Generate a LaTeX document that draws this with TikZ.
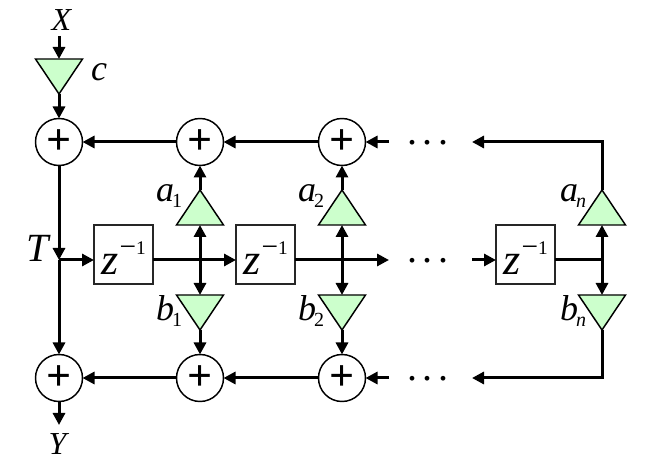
\documentclass[tikz,border=0pt]{standalone}
\usepackage{fontspec}
\setmainfont{Liberation Serif}
\usetikzlibrary{shapes.geometric,arrows.meta}
\definecolor{gainfill}{HTML}{CCFFCC}
\tikzstyle{adder} = [ circle, draw = black, line width = 1.1pt, fill = white, %
                      minimum size = 35.25pt, inner sep = 0pt, outer sep = 0pt, %
                      font = \bfseries\fontsize{33}{33}\selectfont ]
\tikzstyle{delay} = [ rectangle, draw = black!85, line width = 1.1pt, fill = white, %
                      minimum size = 44.25pt, inner sep = 0pt, outer sep = 0pt ]
\tikzstyle{gainup} = [ isosceles triangle, isosceles triangle stretches, %
                       shape border rotate = 90, draw = black, line width = 1.1pt, %
                       fill = gainfill, minimum width = 35.25pt, %
                       minimum height = 26.25pt, inner sep = 0pt, outer sep = 0pt, %
                       anchor = apex ]
\tikzstyle{gaindown} = [ gainup, shape border rotate = 270 ]
\tikzstyle{arrow} = [line width = 2.25pt,-{Triangle[length=9pt,width=9pt]}]
\tikzstyle{biarrow} = [line width = 2.25pt,{Triangle[length=9pt,width=9pt]}-{Triangle[length=9pt,width=9pt]}]
\tikzstyle{wire} = [line width = 2.25pt]
\newcommand{\zinv}{\rule{0pt}{30.75pt}\fontsize{33}{33}\selectfont\textit{z}\kern1pt\raisebox{14pt}{\fontsize{22}{22}\selectfont −}\raisebox{15pt}{\fontsize{14.5}{14.5}\selectfont 1}}
\newcommand{\gainlabel}[2]{\fontsize{27}{27}\selectfont\textit{#1}\kern-1.5pt\raisebox{-5pt}{\fontsize{15}{15}\selectfont #2}}

\begin{document}
\begin{tikzpicture}[x=0.75pt,y=-0.75pt]
      \useasboundingbox (0,0) rectangle (649,473);
      % Adders
      \node (addt0) [adder] at (59,142)  {+};
      \node (addt1) [adder] at (200,142) {+};
      \node (addt2) [adder] at (342,142) {+};
      \node (addb0) [adder] at (59,378)  {+};
      \node (addb1) [adder] at (200,378) {+};
      \node (addb2) [adder] at (342,378) {+};
      % Delays
      \node (delay1) [delay] at (123.5,254.5) {\zinv};
      \node (delay2) [delay] at (265.5,254.5) {\zinv};
      \node (delay3) [delay] at (525.5,254.5) {\zinv};
      % Gains
      \node (gainc) [gaindown] at (59,94)   {};
      \node (gaina1) [gainup]  at (200,190) {};
      \node (gaina2) [gainup]  at (342,190) {};
      \node (gainan) [gainup]  at (602,190) {};
      \node (gainb1) [gaindown] at (200,330) {};
      \node (gainb2) [gaindown] at (342,330) {};
      \node (gainbn) [gaindown] at (602,330) {};
      % Labels
      \node (inlabel) at (62,20) {\fontsize{24}{24}\selectfont\textit{X}};
      \node (outlabel) at (59,444) {\fontsize{24}{24}\selectfont\textit{Y}};
      \node (tlabel) at (39,248) {\fontsize{30}{30}\selectfont\textit{T}};
      \node (clabel) at (99,72) {\fontsize{27}{27}\selectfont\textit{c}};
      \node (labela1) at (169,196) {\gainlabel{a}{1}};
      \node (labela2) at (311,196) {\gainlabel{a}{2}};
      \node (labelan) at (573,196) {\gainlabel{a}{\textit{n}}};
      \node (labelb1) at (169,311) {\gainlabel{b}{1}};
      \node (labelb2) at (311,311) {\gainlabel{b}{2}};
      \node (labelbn) at (573,311) {\gainlabel{b}{\textit{n}}};
      % Dots
      \foreach \y/\n in {142/t,260/m,378/b}
        \node (dots\n) at (428,\y+1) {\fontsize{30}{30}\selectfont .\hspace{4pt}.\hspace{4pt}.};
      % Free ends
      \coordinate (input) at (59,36);
      \coordinate (output) at (59,425);
      \coordinate (tap) at (59,260);
      \coordinate (juncn) at (602,260);
      \coordinate (stopt) at (389,142);
      \coordinate (stopm) at (389,260);
      \coordinate (stopb) at (389,378);
      \coordinate (startt) at (472,142);
      \coordinate (startm) at (472,260);
      \coordinate (startb) at (472,378);
      % Arrows
      \draw [arrow] (input) -- (gainc.lower side);
      \draw [arrow] (gainc.apex) -- (addt0);
      \draw [arrow] (addt0) -- (tap);
      \draw [arrow] (tap) -- (addb0);
      \draw [arrow] (addb0) -- (output);
      \draw [arrow] (tap) -- (tap -| delay1.west);
      \draw [arrow] (tap -| delay1.east) -- (tap -| delay2.west);
      \draw [arrow] (tap -| delay2.east) -- (stopm);
      \draw [arrow] (startm) -- (startm -| delay3.west);
      \draw [wire] (juncn -| delay3.east) -- (juncn);
      \draw [arrow] (addt1) -- (addt0);
      \draw [arrow] (addt2) -- (addt1);
      \draw [arrow] (stopt) -- (addt2);
      \draw [arrow] (addb1) -- (addb0);
      \draw [arrow] (addb2) -- (addb1);
      \draw [arrow] (stopb) -- (addb2);
      \draw [arrow] (gaina1.apex) -- (addt1);
      \draw [arrow] (gaina2.apex) -- (addt2);
      \draw [arrow] (gainb1.apex) -- (addb1);
      \draw [arrow] (gainb2.apex) -- (addb2);
      \draw [biarrow] (gaina1.lower side) -- (gainb1.lower side);
      \draw [biarrow] (gaina2.lower side) -- (gainb2.lower side);
      \draw [biarrow] (gainan.lower side) -- (gainbn.lower side);
      \draw [arrow] (gainan.apex) |- (startt);
      \draw [arrow] (gainbn.apex) |- (startb);
    \end{tikzpicture}
\end{document}
